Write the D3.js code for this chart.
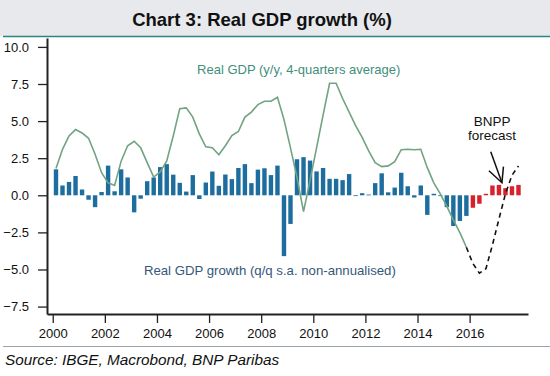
<!DOCTYPE html>
<html>
<head>
<meta charset="utf-8">
<script src="https://cdn.jsdelivr.net/npm/d3@7"></script>
<style>
  body { margin: 0; background: #fff; }
  svg { display: block; font-family: Arial, "Liberation Sans", sans-serif; }
</style>
</head>
<body>
<div id="chart"></div>
<script>
// quarters 2000Q1 .. 2017Q4
let years = d3.range(2000, 2018);
let quarters = [];
years.forEach(y => [1, 2, 3, 4].forEach(q => quarters.push(y + "Q" + q)));

// q/q s.a. growth, %
let qoqGrowth = [
  1.75, 0.66, 0.9, 1.3,
  0.39, -0.3, -0.8, 0.22,
  2.0, 0.27, 1.75, 1.2,
  -1.15, -0.23, 0.95, 1.2,
  1.9, 2.1, 1.39, 0.84,
  0.25, 1.36, -0.25, 0.86,
  1.6, 0.64, 1.4, 1.09,
  1.84, 2.1, 0.82, 1.73,
  1.82, 1.36, 2.0, -4.1,
  -1.93, 2.43, 2.57, 2.34,
  1.61, 1.84, 1.11, 1.11,
  1.02, 1.43, -0.05, 0.14,
  0.05, 0.82, 1.48, 0.2,
  0.52, 1.52, 0.61, -0.15,
  0.66, -1.32, 0.1, -0.05,
  -0.8, -2.07, -1.73, -1.39,
  -0.84, -0.57, 0.1, 0.66,
  0.7, 0.48, 0.61, 0.7
];
let firstForecast = "2016Q1";

// y/y, 4-quarter average, actual (2000Q1 .. 2015Q4)
let yoyAvg = [
  1.8, 3.1, 4.0, 4.43,
  4.2, 3.84, 2.77, 1.52,
  0.84, 0.66, 2.3, 3.34,
  3.64, 3.2, 2.2, 1.23,
  1.57, 2.32, 4.0, 5.84,
  5.89, 5.27, 4.14, 3.27,
  3.2, 2.73, 3.34, 4.02,
  4.3, 5.27, 5.61, 6.11,
  6.34, 6.34, 6.61, 5.1,
  3.2, 1.2, -1.1, 1.0,
  3.2, 5.4, 7.55, 7.55,
  6.52, 5.61, 4.7, 3.9,
  3.0, 2.2, 1.93, 1.98,
  2.27, 3.07, 3.1, 3.07,
  3.1, 1.86, 0.84, 0.1,
  -0.75, -1.66, -2.52, -3.5
];
// y/y forecast path (2015Q4 .. 2017Q4)
let yoyForecast = [-3.5, -4.6, -5.25, -4.95, -3.35, -1.6, 0.1, 1.35, 1.97];

let yTicks = [-7.5, -5.0, -2.5, 0.0, 2.5, 5.0, 7.5, 10.0];
let xTicks = [2000, 2002, 2004, 2006, 2008, 2010, 2012, 2014, 2016];

let svgWidth = 550;
let svgHeight = 376;

let plot = { left: 47, right: 528, top: 38, bottom: 314 };

let svg = d3.select("#chart")
  .append("svg")
  .attr("width", svgWidth)
  .attr("height", svgHeight);

// title band
svg.append("rect")
  .attr("x", 0).attr("y", 0)
  .attr("width", svgWidth).attr("height", 36)
  .attr("fill", "#e7e9ec");

svg.append("line")
  .attr("x1", 3).attr("x2", svgWidth)
  .attr("y1", 36.5).attr("y2", 36.5)
  .attr("stroke", "#2f8482")
  .attr("stroke-width", 1.5);

svg.append("text")
  .attr("x", 262)
  .attr("y", 25.5)
  .attr("text-anchor", "middle")
  .attr("font-size", "18.5px")
  .attr("font-weight", "bold")
  .attr("fill", "#111")
  .text("Chart 3: Real GDP growth (%)");

let xScale = d3.scaleLinear()
  .domain([1999.78, 2018.24])
  .range([plot.left, plot.right]);

let yScale = d3.scaleLinear()
  .domain([-8.0, 10.6])
  .range([plot.bottom, plot.top]);

// quarter label -> decimal time at the middle of the quarter
let qTime = s => +s.slice(0, 4) + (+s.slice(5) - 0.5) / 4;

let forecastIdx = quarters.indexOf(firstForecast);
let barW = 4.4;

svg.append("g")
  .selectAll("rect")
  .data(qoqGrowth)
  .enter()
  .append("rect")
  .attr("x", (d, i) => xScale(qTime(quarters[i])) - barW / 2)
  .attr("y", d => yScale(Math.max(0, d)))
  .attr("width", barW)
  .attr("height", d => Math.max(0.8, Math.abs(yScale(d) - yScale(0))))
  .attr("fill", (d, i) => i >= forecastIdx ? "#d7212b" : "#1d6e9e");

let line = d3.line()
  .x(d => xScale(d[0]))
  .y(d => yScale(d[1]));

let actualPts = yoyAvg.map((v, i) => [qTime(quarters[i]), v]);
let startF = quarters.indexOf("2015Q4");
let forecastPts = yoyForecast.map((v, i) => [qTime(quarters[startF + i]), v]);

svg.append("path")
  .datum(actualPts)
  .attr("d", line)
  .attr("fill", "none")
  .attr("stroke", "#72a381")
  .attr("stroke-width", 1.6);

svg.append("path")
  .datum(forecastPts)
  .attr("d", line)
  .attr("fill", "none")
  .attr("stroke", "#111")
  .attr("stroke-width", 1.6)
  .attr("stroke-dasharray", "5,4");

// axes
let leftAxis = d3.axisLeft(yScale)
  .tickValues(yTicks)
  .tickFormat(d3.format(".1f"))
  .tickSize(9)
  .tickSizeOuter(0);

let bottomAxis = d3.axisBottom(xScale)
  .tickValues(xTicks)
  .tickFormat(d3.format("d"))
  .tickSize(9)
  .tickSizeOuter(0);

let gy = svg.append("g")
  .attr("transform", `translate(${plot.left}, 0)`)
  .call(leftAxis);

let gx = svg.append("g")
  .attr("transform", `translate(0, ${plot.bottom})`)
  .call(bottomAxis);

[gx, gy].forEach(g => {
  g.select(".domain").attr("stroke", "#222").attr("stroke-width", 2);
  g.selectAll(".tick line").attr("stroke", "#222").attr("stroke-width", 1.3);
  g.selectAll(".tick text")
    .attr("font-size", "13px")
    .attr("fill", "#111")
    .attr("font-family", "Arial, 'Liberation Sans', sans-serif");
});
gy.selectAll(".tick text").attr("x", -18);
gx.selectAll(".tick text").attr("y", 15);

// annotations
svg.append("text")
  .attr("x", xScale(2005.54))
  .attr("y", yScale(8.15))
  .attr("font-size", "13px")
  .attr("fill", "#3f8f7b")
  .text("Real GDP (y/y, 4-quarters average)");

svg.append("text")
  .attr("x", xScale(2003.5))
  .attr("y", yScale(-5.38))
  .attr("font-size", "13.2px")
  .attr("fill", "#34587a")
  .text("Real GDP growth (q/q s.a. non-annualised)");

let note = svg.append("text")
  .attr("text-anchor", "middle")
  .attr("font-size", "13.5px")
  .attr("fill", "#111");
note.append("tspan")
  .attr("x", xScale(2016.86)).attr("y", yScale(4.7))
  .text("BNPP");
note.append("tspan")
  .attr("x", xScale(2016.86)).attr("y", yScale(3.72))
  .text("forecast");

// arrow
let arrowFrom = [2016.81, 2.94];
let arrowTo = [2017.24, 0.85];
let tip = [xScale(arrowTo[0]), yScale(arrowTo[1])];
svg.append("line")
  .attr("x1", xScale(arrowFrom[0])).attr("y1", yScale(arrowFrom[1]))
  .attr("x2", tip[0]).attr("y2", tip[1])
  .attr("stroke", "#111").attr("stroke-width", 1.5);
svg.append("path")
  .attr("d", `M${tip[0] - 13},${tip[1] - 12} L${tip[0]},${tip[1]} L${tip[0] + 1.5},${tip[1] - 16}`)
  .attr("fill", "none")
  .attr("stroke", "#111")
  .attr("stroke-width", 1.5);

// source
svg.append("line")
  .attr("x1", 3).attr("x2", svgWidth)
  .attr("y1", 346.5).attr("y2", 346.5)
  .attr("stroke", "#9aa3a8")
  .attr("stroke-width", 1.2);

svg.append("text")
  .attr("x", 5)
  .attr("y", 365)
  .attr("font-size", "15.3px")
  .attr("font-style", "italic")
  .attr("fill", "#111")
  .text("Source: IBGE, Macrobond, BNP Paribas");
</script>
</body>
</html>
